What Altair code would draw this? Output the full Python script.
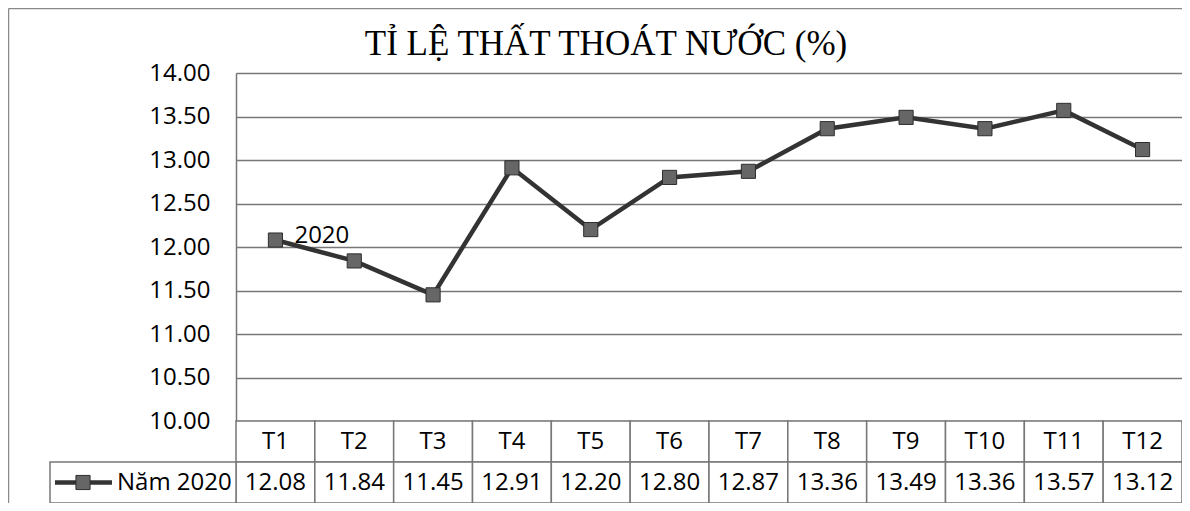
import altair as alt
import pandas as pd

months = ["T1", "T2", "T3", "T4", "T5", "T6", "T7", "T8", "T9", "T10", "T11", "T12"]
values = [12.08, 11.84, 11.45, 12.91, 12.20, 12.80, 12.87, 13.36, 13.49, 13.36, 13.57, 13.12]
series_name = "Năm 2020"
point_label = "2020"
chart_title = "TỈ LỆ THẤT THOÁT NƯỚC (%)"
y_ticks = [10.0, 10.5, 11.0, 11.5, 12.0, 12.5, 13.0, 13.5, 14.0]

df = pd.DataFrame({"month": months, "value": values})

W = 946
H = 348
ROW1_TOP, ROW1_BOT = H, H + 41
ROW2_TOP, ROW2_BOT = H + 41, H + 82
SANS = "Open Sans"
GRID = "#777777"

xenc = alt.X("month:N", sort=months,
             scale=alt.Scale(type="band", paddingInner=0, paddingOuter=0),
             axis=None)
xmid = alt.X("month:N", sort=months, bandPosition=0.5,
             scale=alt.Scale(type="band", paddingInner=0, paddingOuter=0),
             axis=None)
yenc = alt.Y("value:Q",
             scale=alt.Scale(domain=[10, 14], nice=False, zero=False),
             axis=alt.Axis(values=y_ticks, format=".2f", title=None,
                           labelFont=SANS, labelFontSize=24, labelColor="black",
                           labelPadding=26, ticks=False,
                           domain=True, domainColor=GRID, domainWidth=1.5,
                           grid=True, gridColor=GRID, gridWidth=1.5))

base = alt.Chart(df)

line = base.mark_line(color="#333333", strokeWidth=4.5).encode(x=xmid, y=yenc)
pts = base.mark_square(size=200, color="#666666", stroke="#2e2e2e",
                       strokeWidth=1, opacity=1).encode(x=xmid, y="value:Q")

lab = alt.Chart(df.iloc[[0]].assign(lbl=point_label)).mark_text(
    align="left", baseline="middle", dx=19, dy=-4, font=SANS, fontSize=24,
    color="black").encode(x=xmid, y="value:Q", text="lbl:N")

# data table
row1 = base.mark_rect(fill="white", stroke=GRID, strokeWidth=1.5).encode(
    x=xenc, y=alt.value(ROW1_TOP), y2=alt.value(ROW1_BOT))
row2 = base.mark_rect(fill="white", stroke=GRID, strokeWidth=1.5).encode(
    x=xenc, y=alt.value(ROW2_TOP), y2=alt.value(ROW2_BOT))
row1_txt = base.mark_text(font=SANS, fontSize=24, color="black",
                          baseline="middle").encode(
    x=xmid, y=alt.value((ROW1_TOP + ROW1_BOT) / 2), text="month:N")
row2_txt = base.mark_text(font=SANS, fontSize=24, color="black",
                          baseline="middle").encode(
    x=xmid, y=alt.value((ROW2_TOP + ROW2_BOT) / 2),
    text=alt.Text("value:Q", format=".2f"))

one = alt.Data(values=[{"k": series_name}])
leg_cell = alt.Chart(one).mark_rect(fill="white", stroke=GRID, strokeWidth=1.5).encode(
    x=alt.value(-186), x2=alt.value(0), y=alt.value(ROW2_TOP), y2=alt.value(ROW2_BOT))
leg_line = alt.Chart(one).mark_rule(color="#333333", strokeWidth=4.5).encode(
    x=alt.value(-181), x2=alt.value(-124),
    y=alt.value((ROW2_TOP + ROW2_BOT) / 2))
leg_pt = alt.Chart(one).mark_square(size=200, color="#666666", stroke="#2e2e2e",
                                    strokeWidth=1, opacity=1).encode(
    x=alt.value(-153), y=alt.value((ROW2_TOP + ROW2_BOT) / 2))
leg_txt = alt.Chart(one).mark_text(align="left", baseline="middle", font=SANS,
                                   fontSize=24, color="black").encode(
    x=alt.value(-119), y=alt.value((ROW2_TOP + ROW2_BOT) / 2), text="k:N")

ttl = alt.Chart(alt.Data(values=[{"t": chart_title}])).mark_text(
    align="center", baseline="alphabetic", font="Liberation Serif",
    fontSize=35, color="black").encode(
    x=alt.value(370), y=alt.value(-18), text="t:N")

# outer chart border (top & left)
border_top = alt.Chart(one).mark_rule(color="#8a8a8a", strokeWidth=1.5).encode(
    x=alt.value(-227.5), x2=alt.value(W), y=alt.value(-64.5))
border_left = alt.Chart(one).mark_rule(color="#8a8a8a", strokeWidth=1.5).encode(
    x=alt.value(-227.5), y=alt.value(-64.5), y2=alt.value(ROW2_BOT + 10))

chart = alt.layer(
    border_top, border_left, ttl,
    row1, row2, leg_cell, row1_txt, row2_txt,
    line, pts, lab,
    leg_line, leg_pt, leg_txt,
).properties(
    width=W, height=H,
    autosize=alt.AutoSizeParams(type="none"),
    padding={"left": 228, "top": 65, "right": 0, "bottom": 82},
    background="white",
).configure_view(stroke=None)

chart.save("out.html", embed_options={"renderer": "svg", "actions": False})
